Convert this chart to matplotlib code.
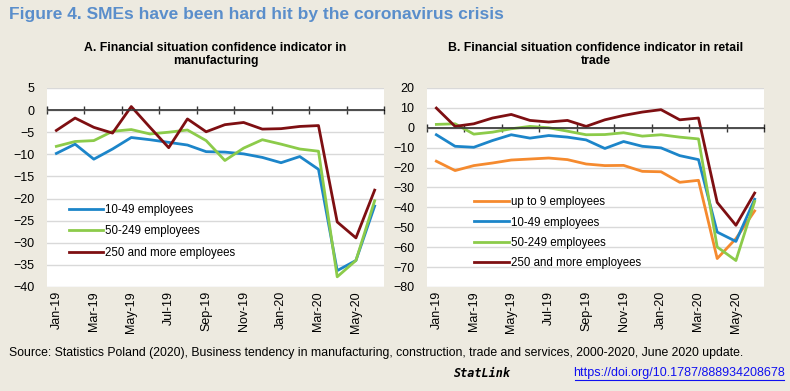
import matplotlib
matplotlib.use("Agg")
import matplotlib.pyplot as plt
import numpy as np

plt.rcParams["font.family"] = ["Liberation Sans", "DejaVu Sans"]

# data
months = ["Jan-19", "Feb-19", "Mar-19", "Apr-19", "May-19", "Jun-19", "Jul-19", "Aug-19",
          "Sep-19", "Oct-19", "Nov-19", "Dec-19", "Jan-20", "Feb-20", "Mar-20", "Apr-20",
          "May-20", "Jun-20"]

manu_10_49 = [-9.8, -7.7, -11.1, -8.8, -6.2, -6.7, -7.3, -7.9, -9.4, -9.5, -9.9, -10.7,
              -11.9, -10.5, -13.4, -36.3, -34.0, -21.7]
manu_50_249 = [-8.2, -7.1, -6.9, -4.8, -4.4, -5.4, -5.0, -4.5, -6.9, -11.4, -8.6, -6.7,
               -7.7, -8.8, -9.3, -37.7, -34.0, -20.5]
manu_250 = [-4.6, -1.8, -3.9, -5.2, 0.8, -3.9, -8.5, -2.0, -4.9, -3.3, -2.8, -4.3,
            -4.2, -3.7, -3.5, -25.3, -28.9, -18.1]

retail_0_9 = [-16.8, -21.5, -19.0, -17.7, -16.2, -15.7, -15.2, -16.0, -18.2, -19.0, -18.9,
              -21.9, -22.1, -27.4, -26.4, -65.7, -55.7, -41.8]
retail_10_49 = [-3.5, -9.3, -9.8, -6.4, -3.5, -5.2, -3.9, -4.7, -6.1, -10.4, -6.9, -9.3,
                -10.1, -14.0, -16.0, -52.4, -57.1, -35.9]
retail_50_249 = [1.7, 2.0, -3.2, -2.2, -0.5, 0.7, 0.0, -1.7, -3.5, -3.4, -2.5, -4.2,
                 -3.5, -4.7, -5.6, -59.9, -66.7, -37.0]
retail_250 = [9.9, 0.7, 2.0, 4.9, 6.7, 3.7, 2.9, 3.7, 0.7, 4.0, 6.2, 7.9, 9.1, 4.0, 4.9,
              -37.5, -49.0, -32.8]

bg = "#EDEAE0"
c_orange = "#F58A2E"
c_blue = "#1C85C9"
c_green = "#8CCB4A"
c_red = "#7E0F12"

fig = plt.figure(figsize=(7.9, 3.91), dpi=100, facecolor=bg)

fig.text(0.011, 0.962, "Figure 4. SMEs have been hard hit by the coronavirus crisis",
         color="#5A8ECB", fontsize=12.5, fontweight="bold", va="center")


def panel(rect, title, series, ylim, ystep):
    ax = fig.add_axes(rect)
    ax.set_facecolor("white")
    x = np.arange(len(months))
    for vals, color, label in series:
        ax.plot(x, vals, color=color, lw=2, label=label, zorder=2)
    ax.set_xlim(-0.5, len(months) - 0.5)
    ax.set_ylim(*ylim)
    ax.set_yticks(np.arange(ylim[0], ylim[1] + 1, ystep))
    ax.grid(axis="y", color="#D9D9D9", lw=1)
    ax.set_axisbelow(True)
    for s in ax.spines.values():
        s.set_visible(False)
    ax.set_xticks(x[::2])
    ax.set_xticklabels(months[::2], rotation=90)
    ax.tick_params(axis="x", length=0, pad=3, labelsize=9)
    ax.tick_params(axis="y", length=0, pad=9, labelsize=9)
    # zero line with category ticks
    ax.axhline(0, color="#333333", lw=1.2, zorder=3)
    frac = -ylim[0] / (ylim[1] - ylim[0])
    sec = ax.secondary_xaxis(frac)
    sec.set_xticks(np.arange(-0.5, len(months), 2))
    sec.set_xticklabels([])
    sec.tick_params(axis="x", direction="inout", length=6, width=1, color="#333333",
                    labelbottom=False, labeltop=False)
    ax.set_title(title, fontsize=8.8, fontweight="bold", pad=17)
    return ax


axA = panel([0.0595, 0.266, 0.4266, 0.509],
            "A. Financial situation confidence indicator in\nmanufacturing",
            [(manu_10_49, c_blue, "10-49 employees"),
             (manu_50_249, c_green, "50-249 employees"),
             (manu_250, c_red, "250 and more employees")],
            (-40, 5), 5)
axA.legend(loc="lower left", bbox_to_anchor=(0.033, 0.09), frameon=False, fontsize=8.3,
           handlelength=3.0, handletextpad=0.2, labelspacing=0.8)

axB = panel([0.5405, 0.266, 0.4266, 0.509],
            "B. Financial situation confidence indicator in retail\ntrade",
            [(retail_0_9, c_orange, "up to 9 employees"),
             (retail_10_49, c_blue, "10-49 employees"),
             (retail_50_249, c_green, "50-249 employees"),
             (retail_250, c_red, "250 and more employees")],
            (-80, 20), 10)
axB.legend(loc="lower left", bbox_to_anchor=(0.11, 0.04), frameon=False, fontsize=8.3,
           handlelength=3.0, handletextpad=0.2, labelspacing=0.7)

fig.text(0.012, 0.098,
         "Source: Statistics Poland (2020), Business tendency in manufacturing, construction, "
         "trade and services, 2000-2020, June 2020 update.",
         fontsize=8.8, va="center")
fig.text(0.575, 0.045, "StatLink", fontsize=8.5, fontstyle="italic", fontweight="bold",
         family="DejaVu Sans Mono", va="center")
fig.text(0.993, 0.045, "https://doi.org/10.1787/888934208678", fontsize=9, color="#1010F0",
         ha="right", va="center", url="https://doi.org/10.1787/888934208678")
fig.add_artist(plt.Line2D([0.728, 0.993], [0.027, 0.027], color="#1010F0", lw=0.8))

fig.savefig("out.png", dpi=100, facecolor=bg)
